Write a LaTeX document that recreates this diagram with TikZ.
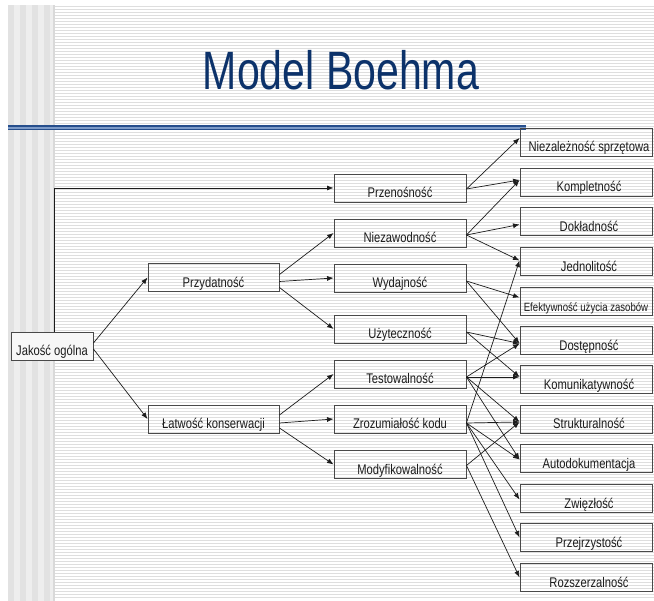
\documentclass[tikz,border=0pt]{standalone}
\usepackage{fontspec}
\setmainfont{Liberation Sans}
\usetikzlibrary{arrows.meta,calc}

\definecolor{titleblue}{RGB}{12,50,106}
\definecolor{ruledark}{RGB}{38,78,140}
\definecolor{rulelight}{RGB}{125,155,200}
\definecolor{ink}{RGB}{28,28,28}
\definecolor{stripeA}{RGB}{226,226,226}
\definecolor{stripeB}{RGB}{238,238,238}
\definecolor{hatch}{RGB}{222,222,222}

% condensed sans text, as used on the slide
\newcommand{\narrow}[1]{\scalebox{0.8}[1]{#1}}
\newcommand{\leaftext}[1]{\hspace*{6pt}\narrow{#1}}

\begin{document}
\begin{tikzpicture}[x=1pt,y=-1pt,
  box/.style={draw=ink!80, line width=0.9pt, minimum height=28pt, inner sep=2pt,
    font=\fontsize{14}{14}\selectfont, text=ink, text height=20pt, text depth=0pt},
  leftbox/.style={box, minimum width=131pt},
  midbox/.style={box, minimum width=132pt},
  leafbox/.style={box, minimum width=132pt},
  arr/.style={draw=ink, line width=0.7pt, -{Latex[length=6.5pt,width=5pt]}},
]
\useasboundingbox (0,0) rectangle (654,601);
\fill[white] (0,0) rectangle (654,601);

% slide background: vertical band on the left, fine horizontal hatching elsewhere
\fill[stripeB] (8,5) rectangle (55,601);
\foreach \x in {8,20,32,44} \fill[stripeA] (\x,5) rectangle (\x+6,601);
\fill[stripeA!96!black] (53,5) rectangle (55,601);
\foreach \y in {7,10,...,600} \draw[hatch, line width=1pt] (55,\y) -- (654,\y);

% title and rule
\node[anchor=base, text=titleblue, font=\fontsize{54}{54}\selectfont, inner sep=0pt]
  (title) at (341,89.5) {\scalebox{0.76}[1]{Model Boehma}};
\fill[ruledark] (8,125.5) rectangle (526,130.5);
\fill[rulelight] (8,127.4) rectangle (526,128.6);

% root and first level
\node[box, minimum width=82pt, fill=white!97!black] (jak) at (52,346) {\narrow{Jakość ogólna}};
\node[leftbox] (pzd) at (213.5,277.5) {\narrow{Przydatność}};
\node[leftbox] (lat) at (213.5,419) {\narrow{Łatwość konserwacji}};

% second level
\node[midbox] (prz) at (400,188)   {\narrow{Przenośność}};
\node[midbox] (nie) at (400,233)   {\narrow{Niezawodność}};
\node[midbox] (wyd) at (400,278)   {\narrow{Wydajność}};
\node[midbox] (uzy) at (400,329)   {\narrow{Użyteczność}};
\node[midbox] (tes) at (400,374)   {\narrow{Testowalność}};
\node[midbox] (zro) at (400,419)   {\narrow{Zrozumiałość kodu}};
\node[midbox] (mod) at (400,464.5) {\narrow{Modyfikowalność}};

% leaves
\node[leafbox] (l1)  at (586,142)   {\leaftext{Niezależność sprzętowa}};
\node[leafbox] (l2)  at (586,182)   {\leaftext{Kompletność}};
\node[leafbox] (l3)  at (586,221.5) {\leaftext{Dokładność}};
\node[leafbox] (l4)  at (586,261.5) {\leaftext{Jednolitość}};
\node[leafbox, font=\fontsize{12}{12}\selectfont] (l5) at (586,301.5) {\narrow{Efektywność użycia zasobów}};
\node[leafbox] (l6)  at (586,340.5) {\leaftext{Dostępność}};
\node[leafbox] (l7)  at (586,379.5) {\leaftext{Komunikatywność}};
\node[leafbox] (l8)  at (586,419)   {\leaftext{Strukturalność}};
\node[leafbox] (l9)  at (586,458.5) {\leaftext{Autodokumentacja}};
\node[leafbox] (l10) at (586,498.5) {\leaftext{Zwięzłość}};
\node[leafbox] (l11) at (586,537.5) {\leaftext{Przejrzystość}};
\node[leafbox] (l12) at (586,577.5) {\leaftext{Rozszerzalność}};

% arrow entry points on the leaves
\coordinate (i1)  at ($(l1.west)+(0,-4)$);
\coordinate (i2)  at ($(l2.west)+(0,-2)$);
\coordinate (i3)  at ($(l3.west)+(0,3)$);
\coordinate (i4)  at ($(l4.west)+(0,-1)$);
\coordinate (i5)  at ($(l5.west)+(0,-4)$);
\coordinate (i6)  at ($(l6.west)+(0,3)$);
\coordinate (i7)  at ($(l7.west)+(0,-2.5)$);
\coordinate (i8)  at ($(l8.west)+(0,3)$);
\coordinate (i9)  at ($(l9.west)+(0,1)$);
\coordinate (i10) at ($(l10.west)+(0,1)$);
\coordinate (i11) at (l11.west);
\coordinate (i12) at (l12.west);

% exit points on the second level
\coordinate (oprz) at ($(prz.east)+(0,1)$);
\coordinate (onie) at ($(nie.east)+(0,2)$);
\coordinate (owyd) at ($(wyd.east)+(0,3)$);
\coordinate (ouzy) at ($(uzy.east)+(0,3)$);
\coordinate (otes) at ($(tes.east)+(0,3)$);
\coordinate (ozro) at ($(zro.east)+(0,4)$);
\coordinate (omod) at ($(mod.east)+(0,1)$);

% root connectors
\coordinate (bend) at (54,0);
\draw[arr] (jak.north -| bend) |- (prz.west);
\draw[arr] ($(jak.east)+(0,-3)$) -- (pzd.west);
\draw[arr] ($(jak.east)+(0,3)$) -- (lat.west);

% first level connectors
\draw[arr] ($(pzd.east)+(0,-3)$) -- (nie.west);
\draw[arr] ($(pzd.east)+(0,4)$) -- (wyd.west);
\draw[arr] ($(pzd.east)+(0,10)$) -- (uzy.west);
\draw[arr] ($(lat.east)+(0,-4)$) -- (tes.west);
\draw[arr] ($(lat.east)+(0,4)$) -- (zro.west);
\draw[arr] ($(lat.east)+(0,9)$) -- (mod.west);

% second level connectors
\draw[arr] (oprz) -- (i1);
\draw[arr] (oprz) -- (i2);
\draw[arr] (onie) -- (i2);
\draw[arr] (onie) -- (i3);
\draw[arr] (onie) -- (i4);
\draw[arr] (owyd) -- (i5);
\draw[arr] (owyd) -- (i6);
\draw[arr] (ouzy) -- (i6);
\draw[arr] (ouzy) -- (i7);
\draw[arr] (otes) -- (i6);
\draw[arr] (otes) -- (i7);
\draw[arr] (otes) -- (i8);
\draw[arr] (otes) -- (i9);
\draw[arr] (ozro) -- (i4);
\draw[arr] (ozro) -- (i8);
\draw[arr] (ozro) -- (i9);
\draw[arr] (ozro) -- (i10);
\draw[arr] (ozro) -- (i11);
\draw[arr] (omod) -- (i8);
\draw[arr] (omod) -- (i12);
\end{tikzpicture}
\end{document}
